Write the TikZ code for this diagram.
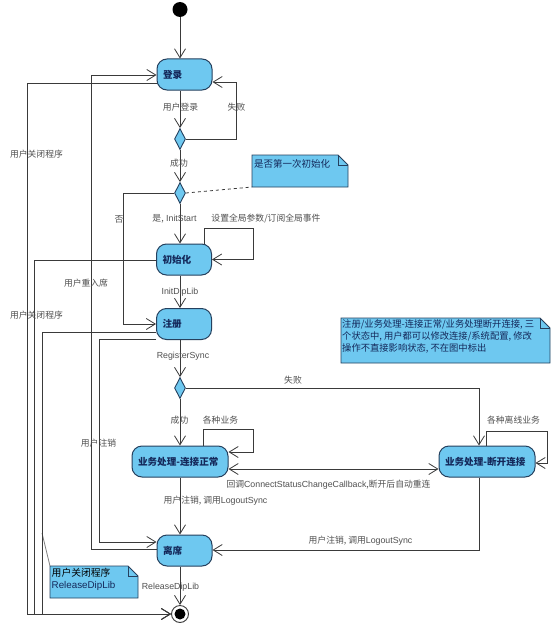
\documentclass[tikz,border=0pt]{standalone}
\usepackage{fontspec}
\setmainfont{Liberation Sans}
\newfontfamily\cj{Noto Sans CJK SC}
\usetikzlibrary{arrows.meta,shapes.geometric,calc}
\definecolor{boxblue}{HTML}{6EC8F0}
\definecolor{boxline}{HTML}{25405E}
\definecolor{lnc}{HTML}{3A3A3A}
\definecolor{lblc}{HTML}{505050}
\definecolor{navy}{HTML}{14285A}
\newcommand\cjl[1]{{\cj #1}}
\begin{document}
\begin{tikzpicture}[x=1pt,y=-1pt,
  st/.style={draw=boxline, fill=boxblue, rounded corners=10pt, line width=1pt,
    minimum height=31pt, inner xsep=6pt, inner ysep=0pt, align=left,
    text=navy, font=\cj\bfseries\fontsize{9.6}{10}\selectfont},
  dec/.style={diamond, draw=boxline, fill=boxblue, line width=0.9pt,
    minimum width=11pt, minimum height=21pt, inner sep=0pt},
  conn/.style={draw=lnc, line width=0.8pt},
  arr/.style={conn, -{Straight Barb[length=9pt,width=11pt]}},
  arrboth/.style={conn, {Straight Barb[length=9pt,width=11pt]}-{Straight Barb[length=9pt,width=11pt]}},
  lbl/.style={text=lblc, inner sep=0pt, font=\fontsize{8.8}{10}\selectfont},
  notebox/.style={inner sep=0pt, outer sep=0pt},
  notefill/.style={draw=boxline, fill=boxblue, line width=0.8pt},
  notetext/.style={text=navy, inner sep=0pt, align=left, anchor=north west}
]
\fill[white] (0,0) rectangle (554,626);
\useasboundingbox (0,0) rectangle (554,626);

% ---------- nodes ----------
\node[circle, fill=black, minimum size=15pt, inner sep=0pt] (start) at (180,9.5) {};
\node[st, text width=43pt] (den) at (184.5,74.5) {登录};
\node[dec] (d1) at (180,139) {};
\node[dec] (d2) at (180,193) {};
\node[st, text width=43pt] (ini) at (184,259.5) {初始化};
\node[st, text width=43pt] (reg) at (184,324) {注册};
\node[dec] (d3) at (180,388) {};
\node[st, text width=84pt] (bz1) at (180,461.5) {业务处理-连接正常};
\node[st, text width=84pt] (bz2) at (487,461.5) {业务处理-断开连接};
\node[st, text width=43pt] (lx) at (184.5,550.5) {离席};
\node[circle, draw=lnc, fill=white, line width=0.9pt, minimum size=17pt, inner sep=0pt] (fin) at (180,614) {};
\node[circle, fill=black, minimum size=11pt, inner sep=0pt] (finin) at (fin) {};

% ---------- notes ----------
\node[notebox, minimum width=96pt, minimum height=32pt, anchor=north west] (n1) at (252,155) {};
\fill[notefill] (n1.north west) -- ([xshift=-10pt]n1.north east) -- ([yshift=-10pt]n1.north east) -- (n1.south east) -- (n1.south west) -- cycle;
\draw[notefill, fill=none] ([xshift=-10pt]n1.north east) -- ([xshift=-10pt,yshift=-10pt]n1.north east) -- ([yshift=-10pt]n1.north east);
\node[notetext, anchor=west, font=\cj\fontsize{9.5}{11}\selectfont] (n1t) at (254,164) {是否第一次初始化};

\node[notebox, minimum width=209pt, minimum height=45pt, anchor=north west] (n2) at (341,318) {};
\fill[notefill] (n2.north west) -- ([xshift=-10pt]n2.north east) -- ([yshift=-10pt]n2.north east) -- (n2.south east) -- (n2.south west) -- cycle;
\draw[notefill, fill=none] ([xshift=-10pt]n2.north east) -- ([xshift=-10pt,yshift=-10pt]n2.north east) -- ([yshift=-10pt]n2.north east);
\node[notetext, font=\cj\fontsize{9.3}{12}\selectfont] (n2t) at (342,319.5) {注册/业务处理-连接正常/业务处理断开连接, 三\\个状态中, 用户都可以修改连接/系统配置, 修改\\操作不直接影响状态, 不在图中标出};

\node[notebox, minimum width=88pt, minimum height=32pt, anchor=north west] (n3) at (50,566) {};
\fill[notefill] (n3.north west) -- ([xshift=-10pt]n3.north east) -- ([yshift=-10pt]n3.north east) -- (n3.south east) -- (n3.south west) -- cycle;
\draw[notefill, fill=none] ([xshift=-10pt]n3.north east) -- ([xshift=-10pt,yshift=-10pt]n3.north east) -- ([yshift=-10pt]n3.north east);
\node[notetext, font=\fontsize{9.8}{12}\selectfont] (n3t) at (51.5,568) {\cjl{\color{black}用户关闭程序}\\ReleaseDipLib};
\coordinate (a3) at (42,533);
\draw[conn, draw=gray] (a3) -- (n3.north west);

% ---------- main flow ----------
\draw[arr] (start) -- (start |- den.north);
\draw[arr] (den.south -| d1) -- (d1.north);
\draw[arr] (d1.east) -- (236,139) -- (236,82) -- (den.east |- 0,82);
\draw[arr] (d1.south) -- (d2.north);
\draw[arr] (d2.south) -- (ini.north -| d2);
\draw[arr] (d2.west) -- (123,193) -- (123,324) -- (reg.west);
\draw[conn, dashed] (d2.east) -- (n1.south west);
\draw[arr] (ini.north -| 204,0) -- (204,228) -- (253,228) -- (253,259.5) -- (ini.east);
\draw[arr] (ini.south -| d1) -- (reg.north -| d1);
\draw[arr] (reg.south -| d3) -- (d3.north);
\draw[arr] (d3.south) -- (bz1.north);
\draw[arr] (d3.east) -- (479,388) -- (bz2.north -| 479,0);
\draw[arr] (bz1.north -| 203,0) -- (203,429) -- (253,429) -- (253,452) -- (bz1.east |- 0,452);
\draw[arr] (bz2.north -| 486,0) -- (486,431) -- (547,431) -- (547,463) -- (bz2.east |- 0,463);
\draw[arrboth] (bz1.east |- 0,469) -- (bz2.west |- 0,469);
\draw[arr] (bz1.south) -- (lx.north -| bz1);
\draw[arr] (bz2.south -| 479,0) -- (479,550) -- (lx.east |- 0,550);
\draw[arr] (lx.south -| fin) -- (fin.north);

% ---------- left side ----------
\draw[arr] (den.west |- 0,83) -- (27,83) -- (27,614) -- (fin.west);
\draw[arr] (ini.west |- 0,260) -- (34,260) -- (34,614) -- (fin.west);
\draw[arr] (reg.west |- 0,332) -- (42,332) -- (42,614) -- (fin.west);
\draw[arr] (lx.west |- 0,549) -- (91,549) -- (91,75) -- (den.west |- 0,75);
\draw[arr] (reg.west |- 0,339) -- (99,339) -- (99,542) -- (lx.west |- 0,542);

% ---------- labels ----------
\node[lbl] (l1) at (180.5,107) {\cjl{用户登录}};
\node[lbl] (l2) at (236.5,107) {\cjl{失败}};
\node[lbl] (l3) at (179,163) {\cjl{成功}};
\node[lbl] (l4) at (174.5,219) {\cjl{是,} InitStart};
\node[lbl] (l5) at (119,219) {\cjl{否}};
\node[lbl] (l6) at (266,219) {\cjl{设置全局参数/订阅全局事件}};
\node[lbl] (l7) at (180,292) {InitDipLib};
\node[lbl] (l8) at (86,283) {\cjl{用户重入席}};
\node[lbl] (l9) at (36.5,154) {\cjl{用户关闭程序}};
\node[lbl] (l10) at (36.5,315) {\cjl{用户关闭程序}};
\node[lbl] (l11) at (183,356) {RegisterSync};
\node[lbl] (l12) at (293,380) {\cjl{失败}};
\node[lbl] (l13) at (179.5,420) {\cjl{成功}};
\node[lbl] (l14) at (220.5,420) {\cjl{各种业务}};
\node[lbl] (l15) at (513.5,420) {\cjl{各种离线业务}};
\node[lbl] (l16) at (98.5,443) {\cjl{用户注销}};
\node[lbl] (l17) at (328.5,485) {\cjl{回调}ConnectStatusChangeCallback\cjl{,断开后自动重连}};
\node[lbl] (l18) at (215.5,501) {\cjl{用户注销, 调用}LogoutSync};
\node[lbl] (l19) at (360.5,541) {\cjl{用户注销, 调用}LogoutSync};
\node[lbl] (l20) at (170.5,587) {ReleaseDipLib};
\end{tikzpicture}
\end{document}
